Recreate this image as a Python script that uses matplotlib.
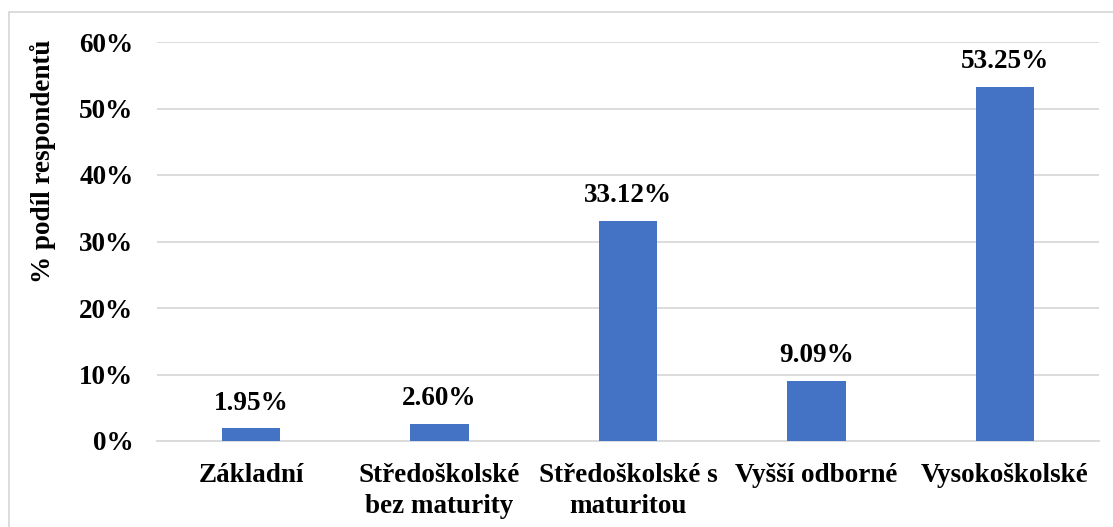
import matplotlib
matplotlib.use("Agg")
import matplotlib.pyplot as plt
from matplotlib.patches import Rectangle
from matplotlib.ticker import FuncFormatter

categories = ["Základní", "Středoškolské\nbez maturity", "Středoškolské s\nmaturitou",
              "Vyšší odborné", "Vysokoškolské"]
values = [1.95, 2.60, 33.12, 9.09, 53.25]
yticks = [0, 10, 20, 30, 40, 50, 60]

plt.rcParams['font.family'] = ['Liberation Serif', 'DejaVu Serif']
plt.rcParams['font.weight'] = 'bold'

FS = 19.5
W, H = 1113, 527
fig = plt.figure(figsize=(W / 100, H / 100), dpi=100)
ax = fig.add_axes([157 / W, 1 - 441 / H, (1099 - 157) / W, (441 - 42) / H])

x = list(range(len(categories)))
bars = ax.bar(x, values, width=0.31, color="#4472C4", zorder=3)
for xi, v in zip(x, values):
    ax.annotate(f"{v:.2f}%", (xi, v), xytext=(0, 9), textcoords="offset points",
                ha="center", va="bottom", fontsize=FS, fontweight="bold")

ax.set_xlim(-0.5, len(categories) - 0.5)
ax.set_ylim(0, 60)
ax.set_yticks(yticks)
ax.yaxis.set_major_formatter(FuncFormatter(lambda v, p: f"{v:.0f}%"))
ax.set_xticks(x)
ax.set_xticklabels(categories, fontsize=FS, fontweight="bold", linespacing=1.3)
ax.tick_params(axis="y", labelsize=FS, length=0, pad=17)
ax.tick_params(axis="x", length=0, pad=16)
for lbl in ax.get_yticklabels():
    lbl.set_fontweight("bold")
ax.grid(axis="y", color="#d9d9d9", linewidth=1.3, zorder=0)
for s in ["top", "right", "left"]:
    ax.spines[s].set_visible(False)
ax.spines["bottom"].set_color("#d9d9d9")
ax.spines["bottom"].set_linewidth(1.3)

ax.set_ylabel("% podíl respondentů", fontsize=FS, fontweight="bold")
ax.yaxis.set_label_coords(-101 / (1099 - 157), (441 - 161) / (441 - 42))

fig.patches.append(Rectangle((9 / W, -0.05), 1.2, 1 - 12 / H + 0.05, transform=fig.transFigure,
                             fill=False, edgecolor="#d9d9d9", linewidth=1.3))

fig.savefig("out.png", dpi=100)
